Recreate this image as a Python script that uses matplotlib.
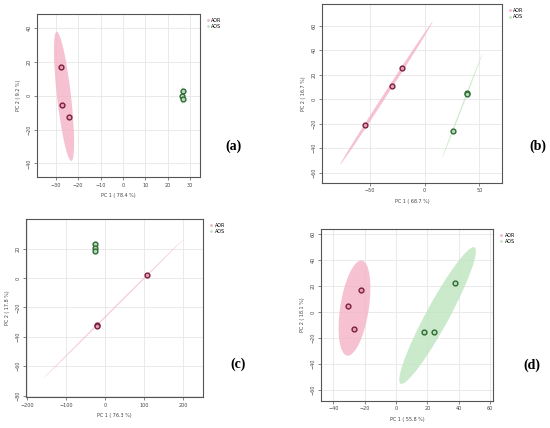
import numpy as np
import matplotlib
matplotlib.use("Agg")
import matplotlib.pyplot as plt
from matplotlib.patches import Ellipse

# pca score plots for AOR vs AOS, four panels (a)-(d)
# values

groups = ['AOR', 'AOS']

# panel (a)
a_aor_x = [-27.5, -27.3, -24.2]
a_aor_y = [17.2, -5.7, -12.6]
a_aos_x = [26.7, 26.5, 26.7]
a_aos_y = [2.6, 0.0, -2.0]

# panel (b)
b_aor_x = [-20.7, -29.9, -54.0]
b_aor_y = [25.3, 10.6, -21.2]
b_aos_x = [38.7, 38.8, 25.6]
b_aos_y = [5.3, 4.4, -25.6]

# panel (c)
c_aor_x = [107.5, -20.5, -20.8]
c_aor_y = [1.8, -31.8, -32.3]
c_aos_x = [-24.5, -25.5, -26.5]
c_aos_y = [23.0, 20.5, 18.3]

# panel (d)
d_aor_x = [-22.3, -30.6, -26.6]
d_aor_y = [16.9, 4.9, -12.8]
d_aos_x = [37.4, 17.7, 24.5]
d_aos_y = [22.1, -15.1, -15.1]

x_labels = ['PC 1 ( 78.4 %)', 'PC 1 ( 68.7 %)', 'PC 1 ( 76.3 %)', 'PC 1 ( 55.8 %)']
y_labels = ['PC 2 ( 9.2 %)', 'PC 2 ( 16.7 %)', 'PC 2 ( 17.8 %)', 'PC 2 ( 18.1 %)']
panel_tags = ['(a)', '(b)', '(c)', '(d)']

x_ticks = [[-30, -20, -10, 0, 10, 20, 30], [-50, 0, 50],
           [-200, -100, 0, 100, 200], [-40, -20, 0, 20, 40, 60]]
y_ticks = [[-40, -20, 0, 20, 40], [-60, -40, -20, 0, 20, 40, 60],
           [-80, -60, -40, -20, 0, 20], [-60, -40, -20, 0, 20, 40, 60]]

# colours for the two groups
fill_cols = ['#e8a0b4', '#b8dcb8']
edge_cols = ['#7a1f3d', '#2f6b35']
ell_cols = ['#f4b3c6', '#bfe5bf']


def conf_ellipse(ax, x, y, color, level=0.95):
    # 95% confidence ellipse from the sample covariance (2 dof chi square)
    x = np.asarray(x)
    y = np.asarray(y)
    cov = np.cov(x, y)
    vals, vecs = np.linalg.eigh(cov)
    scale = np.sqrt(-2 * np.log(1 - level))
    w, h = 2 * scale * np.sqrt(np.maximum(vals, 0))
    angle = np.degrees(np.arctan2(vecs[1, 0], vecs[0, 0]))
    e = Ellipse((x.mean(), y.mean()), w, h, angle=angle,
                facecolor=color, edgecolor='none', alpha=0.8, zorder=1)
    ax.add_patch(e)


fig = plt.figure(figsize=(5.5, 4.28), dpi=100)

boxes = [[0.0673, 0.5864, 0.2964, 0.3808],
         [0.5860, 0.5731, 0.3262, 0.4175],
         [0.0473, 0.0717, 0.3224, 0.4166],
         [0.5836, 0.0638, 0.3133, 0.4012]]
xlims = [(-38.4, 34.5), (-93.4, 70.3), (-202, 252), (-47.9, 62.1)]
ylims = [(-48.1, 48.3), (-68.2, 77.7), (-81.1, 40.2), (-68.2, 63.8)]
tag_pos = [(233, 146), (538, 146), (238, 364), (532, 365)]

data = [
    ((a_aor_x, a_aor_y), (a_aos_x, a_aos_y)),
    ((b_aor_x, b_aor_y), (b_aos_x, b_aos_y)),
    ((c_aor_x, c_aor_y), (c_aos_x, c_aos_y)),
    ((d_aor_x, d_aor_y), (d_aos_x, d_aos_y)),
]

for i in range(4):
    ax = fig.add_axes(boxes[i])
    for g in range(2):
        gx, gy = data[i][g]
        conf_ellipse(ax, gx, gy, ell_cols[g])
        ax.scatter(gx, gy, s=12, facecolor=fill_cols[g], edgecolor=edge_cols[g],
                   linewidth=1.0, zorder=3)

    ax.set_xlim(*xlims[i])
    ax.set_ylim(*ylims[i])
    ax.set_xticks(x_ticks[i])
    ax.set_yticks(y_ticks[i])
    ax.grid(True, color='#e6e6e6', linewidth=0.6)
    ax.set_axisbelow(True)
    for s in ax.spines.values():
        s.set_color('#555555')
        s.set_linewidth(0.8)
    ax.tick_params(labelsize=3.5, length=2, width=0.5, color='#555555',
                   labelcolor='#444444', pad=2)
    plt.setp(ax.get_yticklabels(), rotation=90, va='center')
    ax.set_xlabel(x_labels[i], fontsize=3.5, color='#444444', labelpad=4)
    ax.set_ylabel(y_labels[i], fontsize=3.5, color='#444444', labelpad=4)

    # small legend outside the top right corner
    handles = [plt.Line2D([], [], marker='o', linestyle='none', markersize=2,
                          markerfacecolor=ell_cols[g], markeredgecolor='none')
               for g in range(2)]
    ax.legend(handles, groups, loc='upper left', bbox_to_anchor=(1.02, 0.99),
              fontsize=3.5, frameon=False, handletextpad=0.2, labelspacing=0.3,
              borderaxespad=0, handlelength=1)

    fig.text(tag_pos[i][0] / 550, 1 - tag_pos[i][1] / 428, panel_tags[i],
             fontsize=10, fontweight='bold', family='Liberation Serif',
             ha='center', va='center')

fig.savefig('out.png', dpi=100)
